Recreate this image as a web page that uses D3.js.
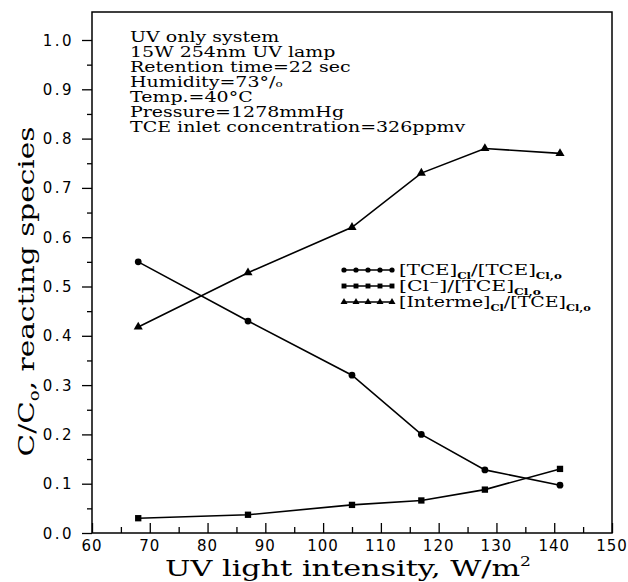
<!DOCTYPE html>
<html>
<head>
<meta charset="utf-8">
<script src="https://cdn.jsdelivr.net/npm/d3@7"></script>
<style>
body { margin: 0; background: #fff; }
text { fill: #000; }
</style>
</head>
<body>
<div id="chart"></div>
<script>
var w = 628, h = 582;

var intensity = [68, 87, 105, 117, 128, 141];
var tceRatio = [0.55, 0.43, 0.32, 0.20, 0.128, 0.097];
var clRatio = [0.03, 0.037, 0.057, 0.066, 0.088, 0.13];
var intermeRatio = [0.418, 0.528, 0.62, 0.73, 0.78, 0.77];
var xTicks = [60, 70, 80, 90, 100, 110, 120, 130, 140, 150];
var yTicks = [0, 0.1, 0.2, 0.3, 0.4, 0.5, 0.6, 0.7, 0.8, 0.9, 1.0];
var notes = ["UV only system", "15W 254nm UV lamp", "Retention time=22 sec",
  "Humidity=73°/\u2092", "Temp.=40°C", "Pressure=1278mmHg", "TCE inlet concentration=326ppmv"];

var serif = "'DejaVu Serif', serif";
var sans = "'DejaVu Sans', sans-serif";

var svg = d3.select("#chart").append("svg")
  .attr("width", w).attr("height", h);

var x = d3.scaleLinear().domain([60, 150]).range([92, 612]);
var y = d3.scaleLinear().domain([0, 1.0]).range([533, 40]);

// stretch a group horizontally so its text fills the wanted width
function stretch(g, width, rot) {
  var bw = g.select("text").node().getBBox().width;
  var s = width / bw;
  g.select("text").attr("transform", (rot || "") + " scale(" + s + ",1)");
}

// frame
svg.append("rect")
  .attr("x", x(60)).attr("y", 12)
  .attr("width", x(150) - x(60)).attr("height", y(0) - 12)
  .attr("fill", "none").attr("stroke", "#000").attr("stroke-width", 1.5);

// y axis, ticks outward
svg.append("g").attr("transform", "translate(" + x(60) + ",0)")
  .call(d3.axisLeft(y).tickValues(yTicks).tickSize(10).tickFormat(""))
  .select(".domain").remove();
svg.append("g").attr("transform", "translate(" + x(60) + ",0)")
  .call(d3.axisLeft(y).tickValues(d3.range(0.05, 1.0, 0.1)).tickSize(5).tickFormat(""))
  .select(".domain").remove();
svg.selectAll(".ylab").data(yTicks).enter().append("text")
  .attr("x", 74).attr("y", function(d) { return y(d) + 5.5; })
  .attr("text-anchor", "end")
  .style("font-family", sans).style("font-size", "15px").style("letter-spacing", "2.5px")
  .text(function(d) { return d.toFixed(1); });

// x axis, ticks inward
svg.append("g").attr("transform", "translate(0," + y(0) + ")")
  .call(d3.axisTop(x).tickValues(xTicks).tickSize(10).tickFormat(""))
  .select(".domain").remove();
svg.append("g").attr("transform", "translate(0," + y(0) + ")")
  .call(d3.axisTop(x).tickValues(d3.range(65, 150, 10)).tickSize(6).tickFormat(""))
  .select(".domain").remove();
svg.selectAll(".xlab").data(xTicks).enter().append("text")
  .attr("x", function(d) { return x(d); }).attr("y", 551)
  .attr("text-anchor", "middle")
  .style("font-family", sans).style("font-size", "15px").style("letter-spacing", "1px")
  .text(function(d) { return d; });

svg.selectAll(".tick line").attr("stroke", "#000").attr("stroke-width", 1.3);

// axis titles
var xt = svg.append("g").attr("transform", "translate(" + 348 + ",576)");
xt.append("text")
  .attr("text-anchor", "middle")
  .style("font-family", serif).style("font-size", "23px")
  .html("UV light intensity, W/m<tspan dy='-10' font-size='13px'>2</tspan>");
stretch(xt, 366);

var yt = svg.append("g").attr("transform", "translate(34," + y(0.49) + ")");
yt.append("text")
  .attr("text-anchor", "middle")
  .style("font-family", serif).style("font-size", "23px")
  .html("C/C<tspan dy='5' font-size='14px'>o</tspan><tspan dy='-5'>, reacting species</tspan>");
stretch(yt, 330, "rotate(-90)");

// notes
var ng = svg.append("g").attr("transform", "translate(130,0)");
var noteText = ng.append("text")
  .style("font-family", serif).style("font-size", "15px");
noteText.selectAll("tspan").data(notes).enter().append("tspan")
  .attr("x", 0).attr("y", function(d, i) { return 42 + i * 15; })
  .text(function(d) { return d; });
stretch(ng, 336);

var line = d3.line()
  .x(function(d) { return x(d[0]); })
  .y(function(d) { return y(d[1]); });

var series = [
  { name: "tce", values: tceRatio, symbol: d3.symbolCircle, size: 36 },
  { name: "cl", values: clRatio, symbol: d3.symbolSquare, size: 40 },
  { name: "interme", values: intermeRatio, symbol: d3.symbolTriangle, size: 36 }
];

series.forEach(function(s) {
  var pts = intensity.map(function(v, i) { return [v, s.values[i]]; });
  svg.append("path").datum(pts)
    .attr("d", line)
    .attr("fill", "none").attr("stroke", "#000").attr("stroke-width", 1.6);
  svg.selectAll(".pt-" + s.name).data(pts).enter().append("path")
    .attr("d", d3.symbol().type(s.symbol).size(s.size))
    .attr("transform", function(d) { return "translate(" + x(d[0]) + "," + y(d[1]) + ")"; })
    .attr("fill", "#000");
});

// legend
var legendY = [270, 286, 302];
var legendText = [
  "[TCE]<tspan dy='4' font-size='9px' font-weight='bold'>Cl</tspan><tspan dy='-4'>/[TCE]</tspan><tspan dy='4' font-size='9px' font-weight='bold'>Cl,o</tspan>",
  "[Cl<tspan dy='-6' font-size='9px'>−</tspan><tspan dy='6'>]/[TCE]</tspan><tspan dy='4' font-size='9px' font-weight='bold'>Cl,o</tspan>",
  "[Interme]<tspan dy='4' font-size='9px' font-weight='bold'>Cl</tspan><tspan dy='-4'>/[TCE]</tspan><tspan dy='4' font-size='9px' font-weight='bold'>Cl,o</tspan>"
];
var legendWidth = [163, 142, 192];
series.forEach(function(s, i) {
  var ly = legendY[i];
  svg.append("line")
    .attr("x1", 344).attr("x2", 392).attr("y1", ly).attr("y2", ly)
    .attr("stroke", "#000").attr("stroke-width", 1.5);
  svg.selectAll(".leg-" + s.name).data(d3.range(5)).enter().append("path")
    .attr("d", d3.symbol().type(s.symbol).size(s.size * 0.6))
    .attr("transform", function(d) { return "translate(" + (344 + d * 12) + "," + ly + ")"; })
    .attr("fill", "#000");
  var lg = svg.append("g").attr("transform", "translate(399," + (ly + 5) + ")");
  lg.append("text")
    .style("font-family", serif).style("font-size", "15px")
    .html(legendText[i]);
  stretch(lg, legendWidth[i]);
});
</script>
</body>
</html>
